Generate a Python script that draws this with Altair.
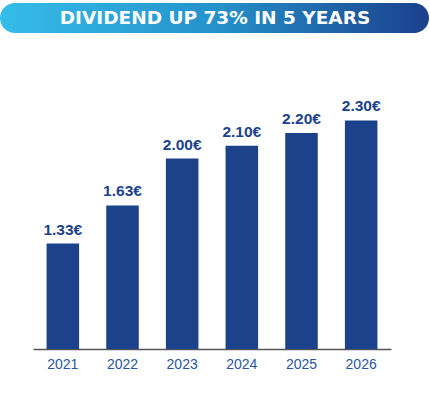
import altair as alt
import pandas as pd

years = ["2021", "2022", "2023", "2024", "2025", "2026"]
dividends = [1.33, 1.63, 2.00, 2.10, 2.20, 2.30]
labels = ["1.33€", "1.63€", "2.00€", "2.10€", "2.20€", "2.30€"]
title_text = "DIVIDEND UP 73% IN 5 YEARS"

df = pd.DataFrame({"year": years, "dividend": dividends, "label": labels})
tdf = pd.DataFrame({"t": [title_text]})

BAR = "#1B428A"

x = alt.X("year:N", title=None, sort=years,
          scale=alt.Scale(paddingInner=0.455, paddingOuter=0.2275),
          axis=alt.Axis(labelAngle=0, labelFont="Liberation Sans", labelFontSize=14,
                        labelColor="#2A55A0", labelPadding=8, ticks=False,
                        domainColor="#555555", domainWidth=1.5, grid=False))
y = alt.Y("dividend:Q", title=None,
          scale=alt.Scale(domain=[0.5, 2.5], zero=False, nice=False),
          axis=None)

bars = alt.Chart(df).mark_bar(color=BAR, clip=False).encode(
    x=x, y=y, y2=alt.datum(0.5))

text = alt.Chart(df).mark_text(font="Liberation Sans", fontWeight="bold", fontSize=15.5,
                               color=BAR, dy=-9, baseline="alphabetic").encode(
    x=alt.X("year:N", sort=years), y="dividend:Q", text="label:N")

banner = alt.Chart(tdf).mark_rect(
    cornerRadius=15,
    fill=alt.LinearGradient(gradient="linear", x1=0, x2=1, y1=0, y2=0,
                            stops=[alt.GradientStop(color="#35BDE9", offset=0),
                                   alt.GradientStop(color="#2592CB", offset=0.5),
                                   alt.GradientStop(color="#1B3F8B", offset=1)]),
    clip=False).encode(
    x=alt.value(-33), x2=alt.value(396), y=alt.value(-92), y2=alt.value(-62))

title = alt.Chart(tdf).mark_text(font="DejaVu Sans", fontWeight="bold", fontSize=18.5,
                                 color="white", baseline="alphabetic", align="center").encode(
    x=alt.value(182), y=alt.value(-71.5), text="t:N")

chart = alt.layer(bars, text, banner, title).properties(
    width=358, height=254,
    background="white",
    autosize=alt.AutoSizeParams(type="none"),
    padding={"left": 33, "top": 95, "right": 39, "bottom": 61},
).configure_view(strokeWidth=0, stroke=None)

chart.save("out.html", embed_options={"renderer": "svg", "actions": False})
